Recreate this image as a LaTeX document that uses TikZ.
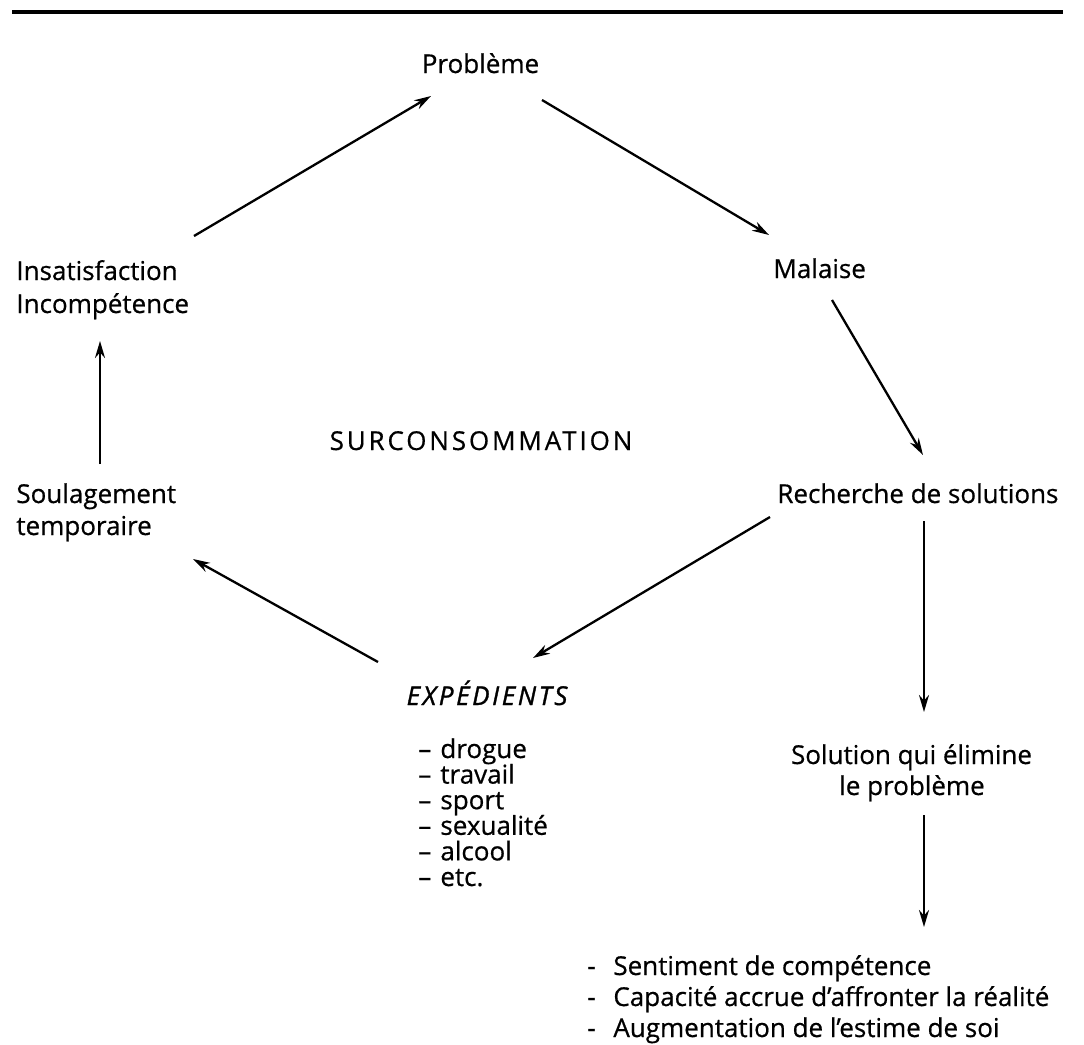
\documentclass[tikz,border=0pt]{standalone}
\usepackage{fontspec}
\setmainfont{Open Sans}[FakeBold=0.6]
\newfontfamily\surfont{Open Sans}[FakeBold=0.6, LetterSpace=11]
\newfontfamily\expfont{Open Sans}[FakeBold=1.2, LetterSpace=10]
\usetikzlibrary{arrows.meta}
\begin{document}
\begin{tikzpicture}[x=0.5pt,y=-0.5pt,
  txt/.style={inner sep=0pt, font=\fontsize{13}{16}\selectfont},
  arr/.style={-{Stealth[length=8.5pt,width=5pt]}, line width=1.15pt},
  rule/.style={line width=2pt}]
\useasboundingbox (0,0) rectangle (1084,1045);
% top rule
\draw[rule] (12,12) -- (1063,12);
% nodes
\node[txt, anchor=base] (prob) at (480.5,73) {Problème};
\node[txt, anchor=base west] (ins1) at (16,280) {Insatisfaction};
\node[txt, anchor=base west] (ins2) at (16,313) {Incompétence};
\node[txt, anchor=base west] (mal) at (773,278) {Malaise};
\node[txt, anchor=base, font=\fontsize{13}{16}\surfont] (sur) at (481,450) {SURCONSOMMATION};
\node[txt, anchor=base west] (soul1) at (16,503) {Soulagement};
\node[txt, anchor=base west] (soul2) at (16,535) {temporaire};
\node[txt, anchor=base west] (rech) at (777,503) {Recherche de solutions};
\node[txt, anchor=base, font=\fontsize{13}{16}\expfont\itshape] (exp) at (487,705) {EXPÉDIENTS};
\foreach \t [count=\i] in {drogue,travail,sport,sexualité,alcool,etc.}
  \node[txt, anchor=base west] (e\i) at (418,{732.4+25.6*\i}) {\makebox[11pt][l]{–}\t};
\node[txt, anchor=base] (sol1) at (911.5,764) {Solution qui élimine};
\node[txt, anchor=base] (sol2) at (912,795) {le problème};
\node[txt, anchor=base west] (res1) at (587,975) {\makebox[13pt][l]{-}Sentiment de compétence};
\node[txt, anchor=base west] (res2) at (587,1006) {\makebox[13pt][l]{-}Capacité accrue d’affronter la réalité};
\node[txt, anchor=base west] (res3) at (587,1037) {\makebox[13pt][l]{-}Augmentation de l’estime de soi};
% connectors
\draw[arr] ([shift={(178,-44)}]ins1.base west) -- ([shift={(-49.5,23)}]prob.base);
\draw[arr] ([shift={(61.5,27)}]prob.base) -- ([shift={(-4,-43)}]mal.base west);
\draw[arr] ([shift={(59,22)}]mal.base west) -- ([shift={(146,-48)}]rech.base west);
\draw[arr] ([shift={(-7,14)}]rech.base west) -- ([shift={(46,-47)}]exp.base);
\draw[arr] ([shift={(147,18)}]rech.base west) -- ([shift={(12.5,-52)}]sol1.base);
\draw[arr] ([shift={(12,20)}]sol2.base) -- ([shift={(337,-48)}]res1.base west);
\draw[arr] ([shift={(-109,-43)}]exp.base) -- ([shift={(177,24)}]soul2.base west);
\draw[arr] ([shift={(84,-39)}]soul1.base west) -- ([shift={(84,28)}]ins2.base west);
\end{tikzpicture}
\end{document}
